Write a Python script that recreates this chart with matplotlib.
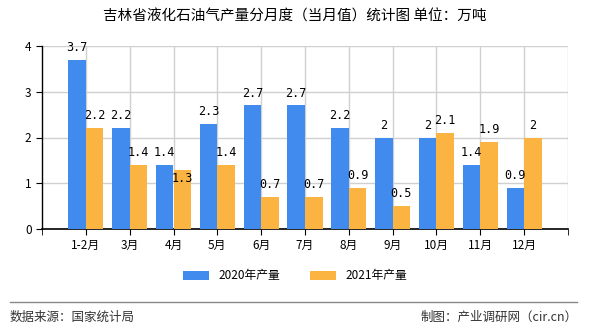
import matplotlib.pyplot as plt
import numpy as np

plt.rcParams['font.family'] = ['Noto Sans CJK SC', 'DejaVu Sans']

# 数据
months = ['1-2月', '3月', '4月', '5月', '6月', '7月', '8月', '9月', '10月', '11月', '12月']
y2020 = [3.7, 2.2, 1.4, 2.3, 2.7, 2.7, 2.2, 2, 2, 1.4, 0.9]
y2021 = [2.2, 1.4, 1.3, 1.4, 0.7, 0.7, 0.9, 0.5, 2.1, 1.9, 2]

fig = plt.figure(figsize=(5.9, 3.3), dpi=100)
ax = fig.add_axes([42/590, 1-229/330, 526/590, 183/330])

x = np.arange(len(months))
w = 0.4
ax.bar(x - w/2, y2020, w, color='#418BEE', label='2020年产量', zorder=3)
ax.bar(x + w/2, y2021, w, color='#FBB441', label='2021年产量', zorder=3)

# 数值标签
for xi, v in zip(x, y2020):
    ax.text(xi - w/2, v + 0.13, f'{v:g}', ha='center', va='bottom', fontsize=8.5,
            family=['DejaVu Sans Mono'], zorder=4)
for i, (xi, v) in enumerate(zip(x, y2021)):
    # 4月标签与左侧重叠，放到柱顶下方（同原图）
    if abs(y2020[i] - v) < 0.15 and y2020[i] > v:
        ax.text(xi + w/2, v - 0.05, f'{v:g}', ha='center', va='top', fontsize=8.5,
                family=['DejaVu Sans Mono'], zorder=4)
    else:
        ax.text(xi + w/2, v + 0.13, f'{v:g}', ha='center', va='bottom', fontsize=8.5,
                family=['DejaVu Sans Mono'], zorder=4)

ax.set_xlim(-1, 11)
ax.set_ylim(0, 4)
ax.set_xticks(list(x))
ax.set_xticklabels(months, fontsize=8.5)
ax.set_xticks([-1, 11], minor=True)
ax.tick_params(axis='x', which='both', length=4, direction='out')
ax.set_yticks([0, 1, 2, 3, 4])
ax.tick_params(axis='y', labelsize=8.5, length=4)
ax.grid(True, color='#d0d0d0', linewidth=1, zorder=0)
ax.axvline(11, color='#d0d0d0', linewidth=1, zorder=0)
for s in ['top', 'right']:
    ax.spines[s].set_visible(False)
ax.spines['left'].set_linewidth(1)
ax.spines['bottom'].set_linewidth(1.2)

fig.text(0.5, 1-17/330, '吉林省液化石油气产量分月度（当月值）统计图 单位：万吨',
         ha='center', va='center', fontsize=10.5)

fig.legend(loc='center', bbox_to_anchor=(0.5, 1-276/330), ncol=2, frameon=False,
           fontsize=8.5, handlelength=2.2, handleheight=0.9, columnspacing=2.5)

fig.add_artist(plt.Line2D([10/590, 577/590], [1-302/330, 1-302/330], color='#888888', linewidth=1))
fig.text(10/590, 1-317/330, '数据来源：国家统计局', ha='left', va='center', fontsize=9, color='#333333')
fig.text(578/590, 1-317/330, '制图：产业调研网（cir.cn）', ha='right', va='center', fontsize=9, color='#333333')

fig.savefig('out.png', dpi=100)
